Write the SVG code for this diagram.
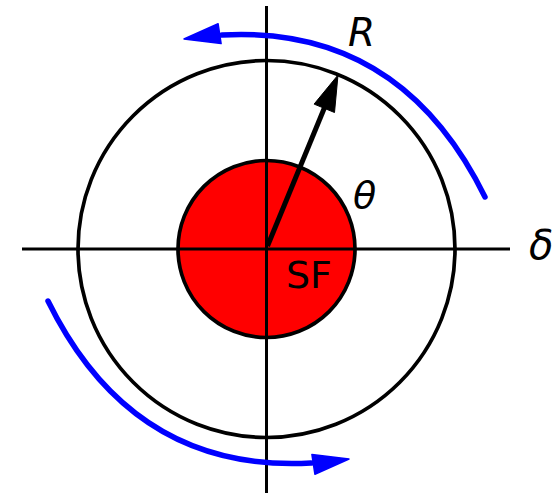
<svg xmlns="http://www.w3.org/2000/svg" width="555" height="495" viewBox="0 0 555 495">
  <style>
    .ax { stroke: #000; stroke-width: 3; fill: none; }
    .circ { stroke: #000; stroke-width: 3.7; }
    .blue { stroke: #0000ff; stroke-width: 5.5; fill: none; stroke-linecap: round; }
    .bluehead { fill: #0000ff; stroke: #0000ff; stroke-width: 1.5; stroke-linejoin: round; }
    .lbl { font-family: "DejaVu Sans", sans-serif; fill: #000; }
    .math { font-style: italic; }
  </style>
  <rect width="555" height="495" fill="#fff"/>
  <g id="outer-circle">
    <circle cx="266.5" cy="249" r="188.5" class="circ" fill="none"/>
  </g>
  <g id="sf">
    <circle cx="266.5" cy="249" r="88.5" class="circ" fill="#ff0000"/>
  </g>
  <g id="axes">
    <line x1="266.5" y1="6" x2="266.5" y2="493" class="ax"/>
    <line x1="22" y1="249" x2="510" y2="249" class="ax"/>
  </g>
  <g id="connectors">
    <g id="arc-top">
      <path d="M485,197 Q400.5,25.1 222,35" class="blue"/>
      <polygon points="184,39 221.1,43.6 218.1,23.8" class="bluehead"/>
    </g>
    <g id="arc-bottom" transform="rotate(180 266.5 249)">
      <path d="M485,197 Q400.5,25.1 222,35" class="blue"/>
      <polygon points="184,39 221.1,43.6 218.1,23.8" class="bluehead"/>
    </g>
    <g id="radius-arrow">
      <line x1="267.5" y1="246" x2="326" y2="104" stroke="#000" stroke-width="5"/>
      <polygon points="338,75 334.5,112.5 314.1,104.1" fill="#000" stroke="#000" stroke-width="1" stroke-linejoin="round"/>
    </g>
  </g>
  <g id="labels">
    <text x="348" y="46" font-size="39" class="lbl math">R</text>
    <text x="353" y="208" font-size="38" class="lbl math">θ</text>
    <text x="529" y="259" font-size="40" class="lbl math">δ</text>
    <text x="286" y="288" font-size="38" class="lbl">SF</text>
  </g>
</svg>
